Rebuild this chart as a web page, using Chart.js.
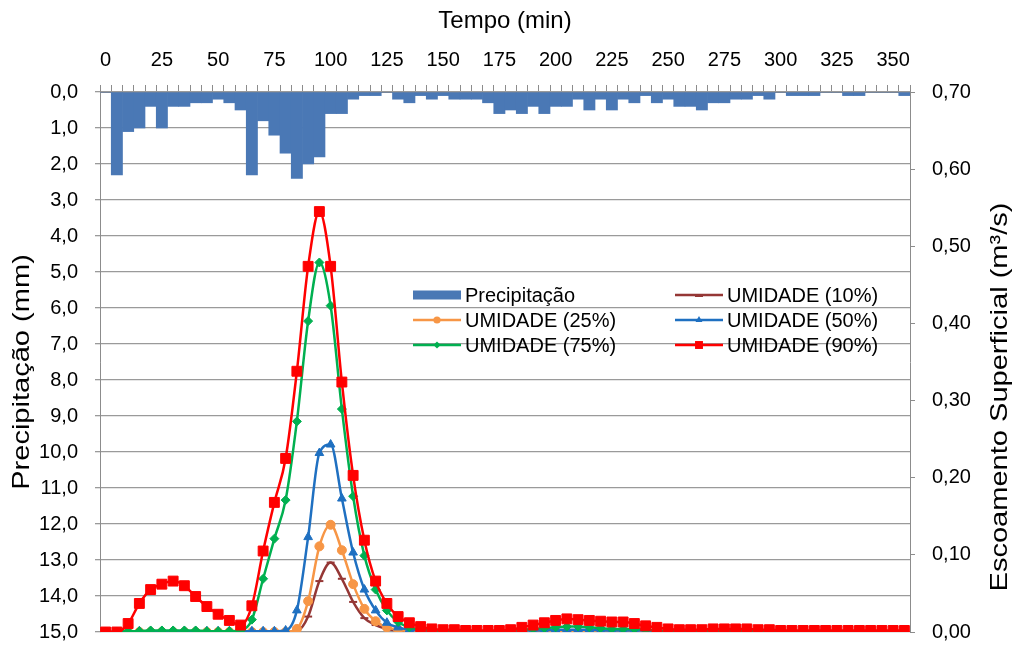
<!DOCTYPE html>
<html>
<head>
<meta charset="utf-8">
<script src="https://cdn.jsdelivr.net/npm/chart.js@4.4.1/dist/chart.umd.min.js"></script>
<style>
  html, body { margin: 0; padding: 0; background: #fff; }
  #wrap { width: 1014px; height: 661px; position: relative; }
</style>
</head>
<body>
<div id="wrap"><canvas id="chart"></canvas></div>
<script>
// tempo (min), one category every 5 minutes
const minutes = [0, 5, 10, 15, 20, 25, 30, 35, 40, 45, 50, 55, 60, 65, 70, 75, 80, 85, 90, 95,
  100, 105, 110, 115, 120, 125, 130, 135, 140, 145, 150, 155, 160, 165, 170, 175, 180, 185, 190, 195,
  200, 205, 210, 215, 220, 225, 230, 235, 240, 245, 250, 255, 260, 265, 270, 275, 280, 285, 290, 295,
  300, 305, 310, 315, 320, 325, 330, 335, 340, 345, 350, 355];

// precipitação (mm)
const precipitacao = [0, 2.3, 1.1, 1.0, 0.4, 1.0, 0.4, 0.4, 0.3, 0.3, 0.2, 0.3, 0.5, 2.3, 0.8, 1.2, 1.7, 2.4, 2.0, 1.8,
  0.6, 0.6, 0.2, 0.1, 0.1, 0, 0.2, 0.3, 0.1, 0.2, 0.1, 0.2, 0.2, 0.2, 0.3, 0.6, 0.5, 0.6, 0.4, 0.6,
  0.4, 0.4, 0.2, 0.5, 0.2, 0.5, 0.2, 0.3, 0.1, 0.3, 0.2, 0.4, 0.4, 0.5, 0.3, 0.3, 0.2, 0.2, 0.1, 0.2,
  0, 0.1, 0.1, 0.1, 0, 0, 0.1, 0.1, 0, 0, 0, 0.1];

// escoamento superficial (m3/s)
const umidade10 = [0, 0, 0, 0, 0, 0, 0, 0, 0, 0, 0, 0, 0, 0, 0, 0, 0, 0.001, 0.020, 0.066,
  0.090, 0.069, 0.039, 0.018, 0.009, 0.004, 0.002, 0.001, 0, 0, 0, 0, 0, 0, 0, 0, 0, 0, 0, 0,
  0, 0, 0, 0, 0, 0, 0, 0, 0, 0, 0, 0, 0, 0, 0, 0, 0, 0, 0, 0,
  0, 0, 0, 0, 0, 0, 0, 0, 0, 0, 0, 0];

const umidade25 = [0, 0, 0, 0, 0, 0, 0, 0, 0, 0, 0, 0, 0, 0, 0, 0, 0, 0.004, 0.040, 0.111,
  0.139, 0.106, 0.062, 0.030, 0.014, 0.006, 0.003, 0.001, 0, 0, 0, 0, 0, 0, 0, 0, 0, 0, 0, 0,
  0, 0, 0, 0, 0, 0, 0, 0, 0, 0, 0, 0, 0, 0, 0, 0, 0, 0, 0, 0,
  0, 0, 0, 0, 0, 0, 0, 0, 0, 0, 0, 0];

const umidade50 = [0, 0, 0.001, 0.001, 0.001, 0.001, 0.001, 0.001, 0.001, 0.001, 0.001, 0.001, 0.001, 0.001, 0.001, 0.001, 0.002, 0.028, 0.123, 0.232,
  0.243, 0.173, 0.103, 0.055, 0.028, 0.012, 0.006, 0.003, 0.002, 0.001, 0.001, 0.001, 0.001, 0.001, 0.001, 0.001, 0.001, 0.002, 0.002, 0.002,
  0.003, 0.003, 0.003, 0.003, 0.002, 0.002, 0.002, 0.002, 0.002, 0.001, 0.001, 0.001, 0.001, 0.001, 0.001, 0.001, 0.001, 0.001, 0.001, 0.001,
  0.001, 0.001, 0.001, 0.001, 0.001, 0.001, 0.001, 0.001, 0.001, 0.001, 0.001, 0.001];

const umidade75 = [0, 0, 0.001, 0.001, 0.002, 0.002, 0.002, 0.002, 0.002, 0.001, 0.001, 0.001, 0.002, 0.016, 0.069, 0.121, 0.171, 0.273, 0.403, 0.479,
  0.423, 0.289, 0.176, 0.099, 0.055, 0.028, 0.013, 0.006, 0.003, 0.002, 0.001, 0.001, 0.001, 0.001, 0.001, 0.001, 0.002, 0.003, 0.004, 0.005,
  0.006, 0.007, 0.007, 0.006, 0.005, 0.004, 0.004, 0.004, 0.003, 0.002, 0.001, 0.001, 0.001, 0.001, 0.001, 0.001, 0.001, 0.001, 0.001, 0.001,
  0.001, 0.001, 0.001, 0.001, 0.001, 0.001, 0.001, 0.001, 0.001, 0.001, 0.001, 0.001];

const umidade90 = [0, 0, 0.011, 0.037, 0.055, 0.062, 0.066, 0.060, 0.046, 0.033, 0.023, 0.015, 0.009, 0.034, 0.105, 0.168, 0.225, 0.338, 0.474, 0.545,
  0.474, 0.324, 0.203, 0.119, 0.066, 0.037, 0.020, 0.012, 0.007, 0.004, 0.003, 0.003, 0.002, 0.002, 0.002, 0.002, 0.003, 0.006, 0.009, 0.012,
  0.015, 0.017, 0.016, 0.015, 0.014, 0.013, 0.013, 0.011, 0.008, 0.006, 0.004, 0.003, 0.003, 0.003, 0.004, 0.004, 0.004, 0.004, 0.003, 0.003,
  0.002, 0.002, 0.002, 0.002, 0.002, 0.002, 0.002, 0.002, 0.002, 0.002, 0.002, 0.002];

const legendOrder = ["Precipitação", "UMIDADE (10%)", "UMIDADE (25%)", "UMIDADE (50%)", "UMIDADE (75%)", "UMIDADE (90%)"];
const tituloEsquerda = "Precipitação (mm)";
const tituloDireita = "Escoamento Superficial (m³/s)";

const FONT = "'Liberation Sans', Arial, sans-serif";
Chart.defaults.font.family = FONT;
Chart.defaults.color = "#000";

function comma(v, d) {
  return Number(v).toFixed(d).replace(".", ",");
}

function lineSet(label, data, color, style, radius, order) {
  return {
    type: "line",
    label,
    data,
    yAxisID: "y1",
    borderColor: color,
    backgroundColor: color,
    borderWidth: 2.5,
    pointStyle: style,
    pointRadius: radius,
    pointBorderWidth: style === "line" ? 2 : 1,
    pointBackgroundColor: color,
    pointBorderColor: color,
    cubicInterpolationMode: "monotone",
    order
  };
}

function drawMarker(ctx, style, x, y, r, color) {
  ctx.save();
  ctx.fillStyle = color;
  ctx.beginPath();
  if (style === "circle") {
    ctx.arc(x, y, r, 0, Math.PI * 2);
  } else if (style === "rect") {
    const s = r * Math.SQRT1_2;
    ctx.rect(x - s, y - s, 2 * s, 2 * s);
  } else if (style === "rectRot") {
    ctx.moveTo(x - r, y); ctx.lineTo(x, y - r); ctx.lineTo(x + r, y); ctx.lineTo(x, y + r);
    ctx.closePath();
  } else if (style === "triangle") {
    ctx.moveTo(x, y - r); ctx.lineTo(x + r * 0.87, y + r * 0.5); ctx.lineTo(x - r * 0.87, y + r * 0.5);
    ctx.closePath();
  }
  ctx.fill();
  ctx.restore();
}

// legend drawn inside the plot, two columns
const innerLegend = {
  id: "innerLegend",
  afterDraw(chart) {
    const ctx = chart.ctx;
    const cols = [413, 675];
    const rows = [295, 320, 345];
    ctx.save();
    ctx.font = "20px " + FONT;
    ctx.textBaseline = "middle";
    ctx.textAlign = "left";
    legendOrder.forEach((name, i) => {
      const ds = chart.data.datasets.find(d => d.label === name);
      const x = cols[i % 2];
      const y = rows[Math.floor(i / 2)];
      if (ds.type === "bar") {
        ctx.fillStyle = ds.backgroundColor;
        ctx.fillRect(x, y - 4.5, 48, 9);
      } else {
        ctx.strokeStyle = ds.borderColor;
        ctx.lineWidth = 2.5;
        ctx.beginPath();
        ctx.moveTo(x, y);
        ctx.lineTo(x + 48, y);
        ctx.stroke();
        if (ds.pointStyle === "line") {
          ctx.lineWidth = 2;
          ctx.beginPath();
          ctx.moveTo(x + 20, y + 1); ctx.lineTo(x + 28, y + 1);
          ctx.stroke();
        } else {
          drawMarker(ctx, ds.pointStyle, x + 24, y, ds.pointRadius * 0.8, ds.borderColor);
        }
      }
      ctx.fillStyle = "#000";
      ctx.fillText(name, x + 52, y + 1);
    });
    ctx.restore();
  }
};

// both vertical axis titles read bottom to top, a bit stretched along their length
const verticalTitles = {
  id: "verticalTitles",
  afterDraw(chart) {
    const ctx = chart.ctx;
    const put = (text, x, y) => {
      ctx.save();
      ctx.translate(x, y);
      ctx.rotate(-Math.PI / 2);
      ctx.scale(1.21, 1);
      ctx.font = "24px " + FONT;
      ctx.fillStyle = "#000";
      ctx.textAlign = "center";
      ctx.textBaseline = "middle";
      ctx.fillText(text, 0, 0);
      ctx.restore();
    };
    put(tituloEsquerda, 22, 372);
    put(tituloDireita, 1000, 397);
  }
};

new Chart(document.getElementById("chart"), {
  type: "bar",
  data: {
    labels: minutes,
    datasets: [
      lineSet("UMIDADE (90%)", umidade90, "#ff0000", "rect", 7, 0),
      lineSet("UMIDADE (75%)", umidade75, "#00b050", "rectRot", 4.5, 1),
      lineSet("UMIDADE (50%)", umidade50, "#1f70c1", "triangle", 5, 2),
      lineSet("UMIDADE (25%)", umidade25, "#f79646", "circle", 4.5, 3),
      lineSet("UMIDADE (10%)", umidade10, "#953735", "line", 4, 4),
      {
        type: "bar",
        label: "Precipitação",
        data: precipitacao,
        yAxisID: "y",
        backgroundColor: "#4a78b5",
        borderWidth: 0,
        barPercentage: 1,
        categoryPercentage: 1,
        order: 5
      }
    ]
  },
  options: {
    responsive: true,
    maintainAspectRatio: false,
    animation: false,
    layout: { padding: { left: 0, right: 0, top: 0, bottom: 9 } },
    plugins: {
      legend: { display: false },
      tooltip: { enabled: false }
    },
    scales: {
      x: {
        position: "top",
        offset: true,
        grid: { offset: true, drawOnChartArea: false, drawTicks: true, tickLength: 7, color: "#8c8c8c" },
        border: { color: "#8c8c8c" },
        ticks: {
          autoSkip: false,
          maxRotation: 0,
          padding: 13,
          font: { size: 20 },
          callback: (v, i) => (i % 5 === 0 ? String(minutes[i]) : "")
        },
        title: { display: true, text: "Tempo (min)", font: { size: 24 }, padding: { top: 7, bottom: 0 } },
        afterFit: s => { s.height = 92; }
      },
      y: {
        position: "left",
        reverse: true,
        min: 0,
        max: 15,
        grid: { color: "#9a9a9a", lineWidth: 1.3, tickLength: 5 },
        border: { color: "#8c8c8c" },
        ticks: { stepSize: 1, padding: 17, font: { size: 20 }, callback: v => comma(v, 1) },
        afterFit: s => { s.width = 100; }
      },
      y1: {
        position: "right",
        min: 0,
        max: 0.7,
        grid: { drawOnChartArea: false, tickLength: 5, color: "#8c8c8c" },
        border: { color: "#8c8c8c" },
        ticks: { stepSize: 0.1, padding: 17, font: { size: 20 }, callback: v => comma(v, 2) },
        afterFit: s => { s.width = 104; }
      }
    }
  },
  plugins: [innerLegend, verticalTitles]
});
</script>
</body>
</html>
